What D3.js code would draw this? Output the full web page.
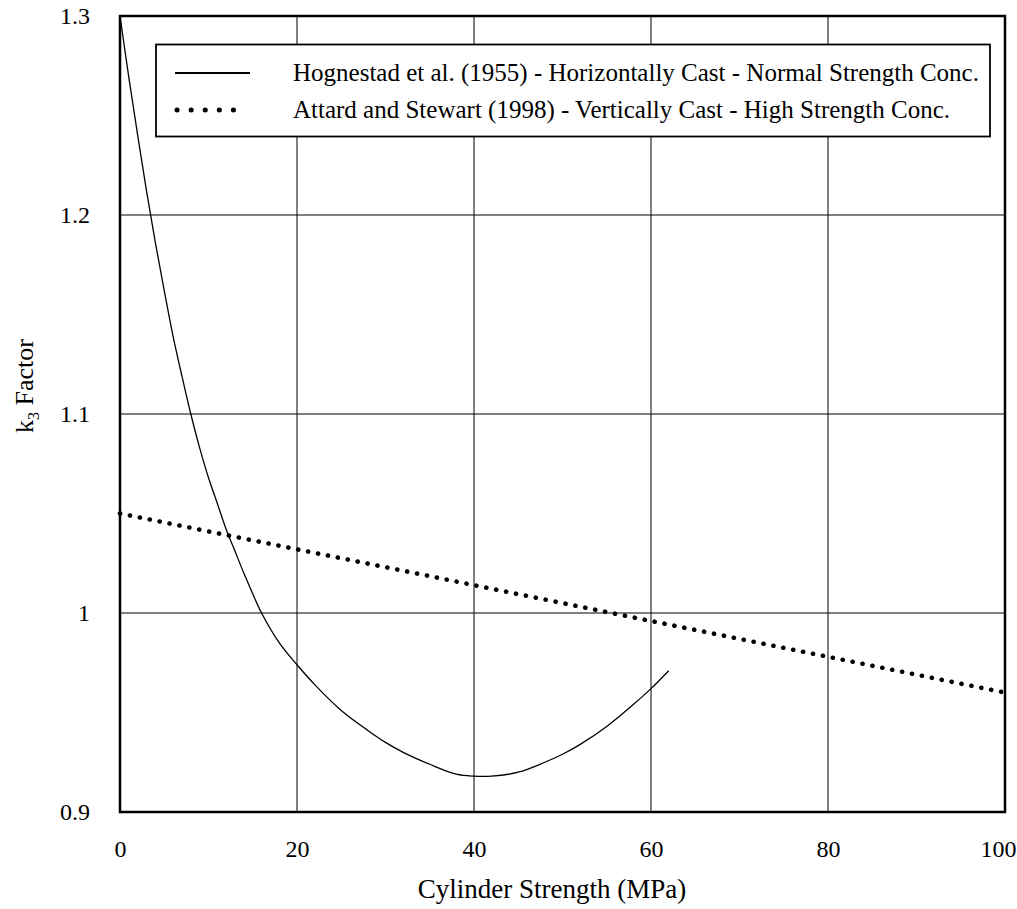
<!DOCTYPE html>
<html lang="en">
<head>
<meta charset="UTF-8" />
<title>k3 Factor vs Cylinder Strength</title>
<script src="https://cdn.jsdelivr.net/npm/d3@7"></script>
<style>
  body { margin: 0; background: #fff; }
</style>
</head>
<body>
<svg id="chart" width="1017" height="909" font-family="'Liberation Serif', 'Times New Roman', 'DejaVu Serif', serif"></svg>
<script>
// Hognestad et al. (1955)
const hogX = [0, 1, 2, 3, 4, 5, 6, 7, 8, 9, 10, 11, 12, 13, 14, 16, 18, 20, 22, 25, 28, 30, 32, 35, 38, 40, 42, 45, 48, 50, 52, 55, 58, 60, 62];
const hogY = [1.3, 1.269, 1.24, 1.212, 1.186, 1.162, 1.139, 1.119, 1.1, 1.083, 1.068, 1.055, 1.042, 1.031, 1.02, 1.0, 0.985, 0.974, 0.964, 0.951, 0.941, 0.935, 0.93, 0.924, 0.919, 0.918, 0.918, 0.92, 0.925, 0.929, 0.934, 0.943, 0.954, 0.962, 0.971];

// Attard and Stewart (1998)
const attX = [0, 100];
const attY = [1.05, 0.96];

const xTicks = [0, 20, 40, 60, 80, 100];
const yTicks = [0.9, 1, 1.1, 1.2, 1.3];
const legendLabels = [
  "Hognestad et al. (1955) - Horizontally Cast - Normal Strength Conc.",
  "Attard and Stewart (1998) - Vertically Cast - High Strength Conc."
];

const margin = { top: 16, right: 12, bottom: 97, left: 120 };
const width = 1017, height = 909;
const serif = "'Liberation Serif', 'Times New Roman', serif";

const svg = d3.select('#chart');

const x = d3.scaleLinear().domain([0, 100]).range([margin.left, width - margin.right]);
const y = d3.scaleLinear().domain([0.9, 1.3]).range([height - margin.bottom, margin.top]);

// grid
svg.append('g')
  .selectAll('line')
  .data(xTicks.slice(1, -1))
  .join('line')
  .attr('x1', d => x(d)).attr('x2', d => x(d))
  .attr('y1', y(0.9)).attr('y2', y(1.3))
  .attr('stroke', '#000').attr('stroke-width', 1);

svg.append('g')
  .selectAll('line')
  .data(yTicks.slice(1, -1))
  .join('line')
  .attr('x1', x(0)).attr('x2', x(100))
  .attr('y1', d => y(d)).attr('y2', d => y(d))
  .attr('stroke', '#000').attr('stroke-width', 1);

// tick labels via axes
const xAxis = svg.append('g')
  .attr('transform', `translate(0,${y(0.9)})`)
  .call(d3.axisBottom(x).tickValues(xTicks).tickSize(0).tickPadding(28).tickFormat(d3.format('d')));
const yAxis = svg.append('g')
  .attr('transform', `translate(${x(0)},0)`)
  .call(d3.axisLeft(y).tickValues(yTicks).tickSize(0).tickPadding(30).tickFormat(d => d === 1 ? '1' : d3.format('.1f')(d)));
[xAxis, yAxis].forEach(a => {
  a.attr('font-family', serif).attr('font-size', 24);
  a.select('.domain').remove();
  a.selectAll('text').attr('fill', '#000');
});
xAxis.selectAll('text').filter(d => d === 100).attr('dx', -7);

// curves
const line = d3.line().x(d => x(d[0])).y(d => y(d[1])).curve(d3.curveCatmullRom);

svg.append('path')
  .datum(d3.zip(hogX, hogY))
  .attr('d', line)
  .attr('fill', 'none').attr('stroke', '#000').attr('stroke-width', 1.3);

svg.append('path')
  .datum(d3.zip(attX, attY))
  .attr('d', d3.line().x(d => x(d[0])).y(d => y(d[1])))
  .attr('fill', 'none').attr('stroke', '#000')
  .attr('stroke-width', 4.6).attr('stroke-linecap', 'round')
  .attr('stroke-dasharray', '0.1 10');

// frame
svg.append('rect')
  .attr('x', x(0)).attr('y', y(1.3))
  .attr('width', x(100) - x(0)).attr('height', y(0.9) - y(1.3))
  .attr('fill', 'none').attr('stroke', '#000').attr('stroke-width', 2.5);

// legend
const lg = svg.append('g');
lg.append('rect')
  .attr('x', 156).attr('y', 44.5).attr('width', 834).attr('height', 92)
  .attr('fill', '#fff').attr('stroke', '#000').attr('stroke-width', 1.8);
const rows = lg.selectAll('g').data(legendLabels).join('g')
  .attr('transform', (d, i) => `translate(0,${73 + i * 37})`);
rows.filter((d, i) => i === 0).append('line')
  .attr('x1', 175).attr('x2', 250).attr('y1', 0).attr('y2', 0)
  .attr('stroke', '#000').attr('stroke-width', 2);
rows.filter((d, i) => i === 1).append('line')
  .attr('x1', 177).attr('x2', 247).attr('y1', 0).attr('y2', 0)
  .attr('stroke', '#000').attr('stroke-width', 5).attr('stroke-linecap', 'round')
  .attr('stroke-dasharray', '0.1 14');
rows.append('text')
  .attr('x', 293).attr('y', 0).attr('dy', '0.33em')
  .attr('font-size', 25).attr('fill', '#000')
  .text(d => d);

// axis titles
svg.append('text')
  .attr('x', 552).attr('y', 898)
  .attr('text-anchor', 'middle').attr('font-size', 27)
  .text('Cylinder Strength (MPa)');

const yt = svg.append('text')
  .attr('transform', 'translate(33,386) rotate(-90)')
  .attr('text-anchor', 'middle').attr('font-size', 26);
yt.append('tspan').text('k');
yt.append('tspan').attr('font-size', 16).attr('dy', 6).text('3');
yt.append('tspan').attr('dy', -6).text(' Factor');
</script>
</body>
</html>
